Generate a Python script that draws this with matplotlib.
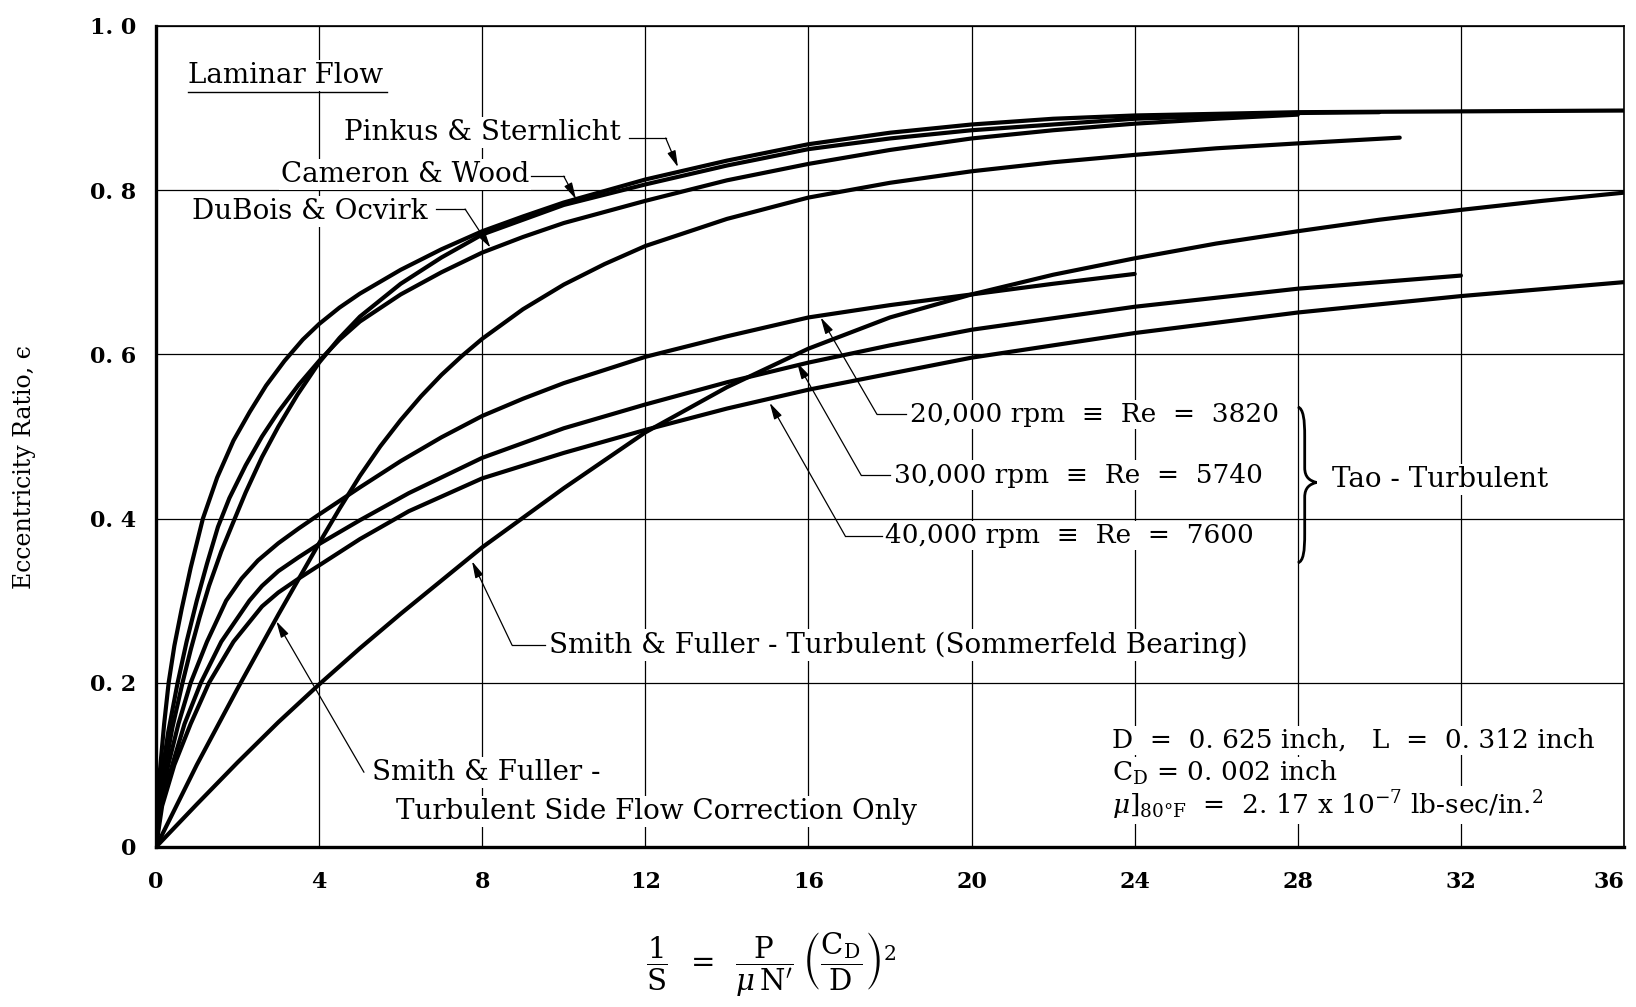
import numpy as np
import matplotlib.pyplot as plt
from matplotlib.path import Path
from matplotlib.patches import PathPatch

plt.rcParams['font.family'] = 'DejaVu Serif'
plt.rcParams['mathtext.fontset'] = 'dejavuserif'

# laminar flow curves
pinkus_x = [0, 0.05, 0.1, 0.2, 0.31, 0.45, 0.63, 0.85, 1.15, 1.5, 1.9, 2.3, 2.7, 3.15, 3.6, 4, 4.5, 5, 6, 7, 8, 9, 10,
            12, 14, 16, 18, 20, 22, 24, 28, 32, 36]
pinkus_y = [0, 0.06, 0.095, 0.15, 0.2, 0.245, 0.29, 0.34, 0.4, 0.45, 0.495, 0.53, 0.562, 0.592, 0.618, 0.637, 0.657,
            0.674, 0.703, 0.728, 0.75, 0.768, 0.785, 0.813, 0.836, 0.856, 0.87, 0.88, 0.887, 0.891, 0.895, 0.896, 0.897]

cameron_x = [0, 0.08, 0.2, 0.4, 0.65, 0.85, 1.07, 1.3, 1.6, 1.89, 2.2, 2.6, 3.0, 3.47, 4, 4.5, 5, 6, 7, 8, 10, 12,
             14, 16, 18, 20, 24, 28, 30]
cameron_y = [0, 0.045, 0.09, 0.145, 0.2, 0.24, 0.28, 0.318, 0.36, 0.395, 0.432, 0.475, 0.512, 0.551, 0.59, 0.62,
             0.646, 0.686, 0.718, 0.746, 0.782, 0.807, 0.83, 0.85, 0.863, 0.873, 0.887, 0.894, 0.895]

dubois_x = [0, 0.06, 0.15, 0.3, 0.53, 0.75, 1.0, 1.25, 1.52, 1.8, 2.2, 2.6, 3.0, 3.5, 4, 4.5, 5, 6, 7, 8, 9, 10,
            12, 14, 16, 18, 20, 22, 24, 26, 28]
dubois_y = [0, 0.05, 0.09, 0.14, 0.2, 0.25, 0.3, 0.345, 0.39, 0.425, 0.465, 0.5, 0.53, 0.563, 0.592, 0.618, 0.64,
            0.673, 0.7, 0.724, 0.743, 0.76, 0.787, 0.812, 0.832, 0.849, 0.863, 0.873, 0.881, 0.887, 0.892]

# Smith & Fuller
sideflow_x = [0, 0.5, 1, 2, 3, 4, 4.5, 5, 5.5, 6, 6.5, 7, 7.5, 8, 9, 10, 11, 12, 14, 16, 18, 20, 22, 24, 26, 28, 30.5]
sideflow_y = [0, 0.05, 0.1, 0.193, 0.283, 0.37, 0.412, 0.452, 0.488, 0.52, 0.549, 0.575, 0.598, 0.619, 0.655, 0.685,
              0.71, 0.732, 0.765, 0.791, 0.809, 0.823, 0.834, 0.843, 0.851, 0.857, 0.864]

sommer_x = [0, 1, 2, 3, 4, 5, 6, 8, 10, 12, 14, 16, 18, 20, 22, 24, 26, 28, 30, 32, 34, 36]
sommer_y = [0, 0.052, 0.103, 0.152, 0.198, 0.242, 0.284, 0.365, 0.437, 0.505, 0.56, 0.607, 0.645, 0.673, 0.697,
            0.717, 0.735, 0.75, 0.764, 0.776, 0.787, 0.797]

# Tao - turbulent
tao20_x = [0, 0.1, 0.3, 0.55, 0.85, 1.25, 1.72, 2.1, 2.5, 3, 3.5, 4, 5, 6, 7, 8, 9, 10, 12, 14, 16, 18, 20, 22, 24]
tao20_y = [0, 0.05, 0.1, 0.15, 0.2, 0.25, 0.3, 0.327, 0.349, 0.37, 0.388, 0.405, 0.438, 0.47, 0.499, 0.525, 0.546,
           0.565, 0.597, 0.622, 0.645, 0.66, 0.673, 0.686, 0.698]

tao30_x = [0, 0.12, 0.4, 0.7, 1.1, 1.6, 2.29, 2.6, 3.0, 3.5, 4, 5, 6.2, 8, 10, 12, 14, 16, 18, 20, 24, 28, 32]
tao30_y = [0, 0.05, 0.1, 0.15, 0.2, 0.25, 0.3, 0.318, 0.336, 0.353, 0.369, 0.398, 0.431, 0.474, 0.51, 0.539, 0.566,
           0.59, 0.611, 0.63, 0.658, 0.68, 0.696]

tao40_x = [0, 0.15, 0.45, 0.85, 1.3, 1.9, 2.6, 3.0, 3.5, 4, 5, 6.2, 8, 10, 12, 14, 16, 20, 24, 28, 32, 36]
tao40_y = [0, 0.05, 0.1, 0.15, 0.2, 0.25, 0.293, 0.31, 0.327, 0.343, 0.375, 0.409, 0.449, 0.48, 0.508, 0.534, 0.557,
           0.596, 0.626, 0.651, 0.671, 0.688]

x_ticks = list(range(0, 37, 4))
y_ticks = [0, 0.2, 0.4, 0.6, 0.8, 1.0]
y_ticklabels = ['0', '0. 2', '0. 4', '0. 6', '0. 8', '1. 0']

fig = plt.figure(figsize=(16.36, 10.07), dpi=100)
ax = fig.add_axes([156 / 1636, 0.1589, 1468 / 1636, 0.8153])

curves = [(pinkus_x, pinkus_y), (cameron_x, cameron_y), (dubois_x, dubois_y),
          (sideflow_x, sideflow_y), (sommer_x, sommer_y),
          (tao20_x, tao20_y), (tao30_x, tao30_y), (tao40_x, tao40_y)]
for cx, cy in curves:
    ax.plot(cx, cy, color='black', lw=3.0, solid_capstyle='round', solid_joinstyle='round', zorder=3)

ax.set_xlim(0, 36)
ax.set_ylim(0, 1.0)
ax.set_xticks(x_ticks)
ax.set_xticklabels([str(t) for t in x_ticks], fontsize=16, fontweight='bold')
ax.get_xticklabels()[-1].set_horizontalalignment('right')
ax.set_yticks(y_ticks)
ax.set_yticklabels(y_ticklabels, fontsize=16, fontweight='bold')
ax.tick_params(axis='x', length=0, pad=17)
ax.tick_params(axis='y', length=0, pad=14)
ax.grid(True, color='black', lw=0.9)
ax.set_axisbelow(True)
for side in ['left', 'bottom']:
    ax.spines[side].set_linewidth(2.4)
for side in ['top', 'right']:
    ax.spines[side].set_linewidth(1.2)

ax.set_ylabel('Eccentricity Ratio, \u03f5', fontsize=17, family=['DejaVu Serif', 'DejaVu Sans'])
ax.yaxis.set_label_coords(-0.0815, 0.463)
ax.text(0.419, -0.143,
        r'$\dfrac{1}{\mathrm{S}}\;\;=\;\;\dfrac{\mathrm{P}}{\mu\,\mathrm{N}^{\prime}}\;'
        r'\left(\dfrac{\mathrm{C}_{\mathrm{D}}}{\mathrm{D}}\right)^{2}$',
        transform=ax.transAxes, fontsize=21, ha='center', va='center')

box = dict(facecolor='white', edgecolor='none', pad=1.5)
fs = 20


def label(x, y, s, size=fs, **kw):
    ax.text(x, y, s, fontsize=size, ha='left', va='center', bbox=box, zorder=4, **kw)


def leader(start, corner, tip):
    if corner is not None:
        ax.plot([start[0], corner[0]], [start[1], corner[1]], color='black', lw=0.9, zorder=4)
    else:
        corner = start
    ax.annotate('', xy=tip, xytext=corner, zorder=4,
                arrowprops=dict(arrowstyle='-|>,head_length=0.5,head_width=0.13',
                                color='black', lw=0.9, shrinkA=0, shrinkB=0, mutation_scale=20))


label(0.78, 0.940, 'Laminar Flow')
ax.plot([0.78, 5.67], [0.920, 0.920], color='black', lw=1.0, zorder=4)

label(4.62, 0.870, 'Pinkus & Sternlicht')
leader((11.6, 0.8635), (12.5, 0.8635), (12.8, 0.828))
label(3.06, 0.819, 'Cameron & Wood')
leader((9.2, 0.817), (10.0, 0.817), (10.3, 0.789))
label(0.88, 0.774, 'DuBois & Ocvirk')
leader((6.87, 0.777), (7.58, 0.777), (8.2, 0.73))

label(18.48, 0.527, '20,000 rpm  \u2261  Re  =  3820', size=19)
leader((18.4, 0.527), (17.68, 0.527), (16.3, 0.645))
label(18.09, 0.453, '30,000 rpm  \u2261  Re  =  5740', size=19)
leader((18.0, 0.453), (17.29, 0.453), (15.72, 0.59))
label(17.87, 0.379, '40,000 rpm  \u2261  Re  =  7600', size=19)
leader((17.8, 0.379), (16.9, 0.379), (15.05, 0.541))

# brace for Tao curves
brace = Path([(28.0, 0.536), (28.14, 0.534), (28.17, 0.52), (28.17, 0.50),
              (28.17, 0.462),
              (28.17, 0.45), (28.3, 0.446), (28.46, 0.444),
              (28.3, 0.442), (28.17, 0.438), (28.17, 0.426),
              (28.17, 0.382),
              (28.17, 0.36), (28.14, 0.348), (28.0, 0.346)],
             [Path.MOVETO, Path.CURVE4, Path.CURVE4, Path.CURVE4,
              Path.LINETO,
              Path.CURVE4, Path.CURVE4, Path.CURVE4,
              Path.CURVE4, Path.CURVE4, Path.CURVE4,
              Path.LINETO,
              Path.CURVE4, Path.CURVE4, Path.CURVE4])
ax.add_patch(PathPatch(brace, facecolor='none', edgecolor='black', lw=2.0, zorder=4))
label(28.85, 0.448, 'Tao - Turbulent')

label(9.63, 0.246, 'Smith & Fuller - Turbulent (Sommerfeld Bearing)')
leader((9.55, 0.246), (8.73, 0.246), (7.75, 0.348))
label(5.3, 0.091, 'Smith & Fuller -')
leader((5.1, 0.091), None, (2.95, 0.275))
label(5.89, 0.043, 'Turbulent Side Flow Correction Only')

label(23.45, 0.130, 'D  =  0. 625 inch,   L  =  0. 312 inch', size=19)
label(23.45, 0.090, r'C$_\mathrm{D}$ = 0. 002 inch', size=19)
label(23.45, 0.051, r'$\mu]_{80\degree\mathrm{F}}$  =  2. 17 x 10$^{-7}$ lb-sec/in.$^{2}$', size=19)

fig.savefig('out.png', dpi=100)
